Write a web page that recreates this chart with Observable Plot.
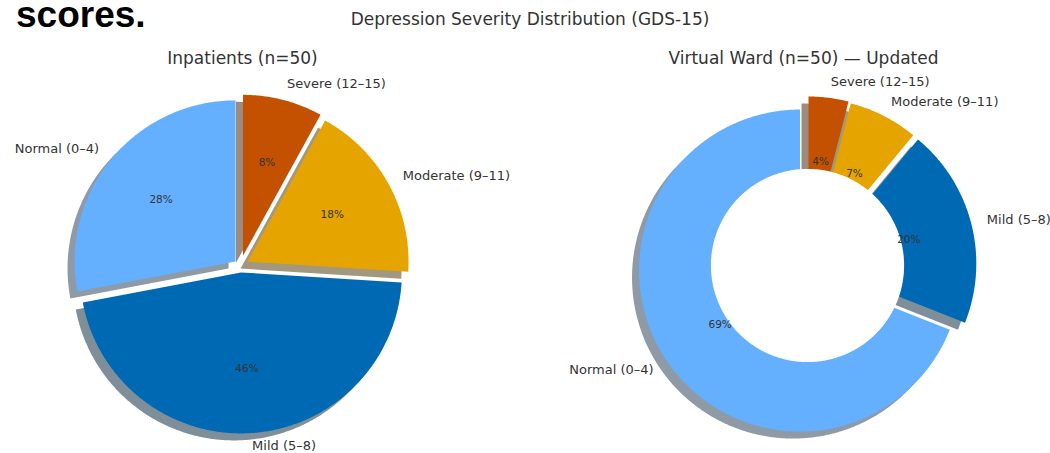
<!DOCTYPE html>
<html>
<head>
<meta charset="utf-8">
<script src="https://cdn.jsdelivr.net/npm/d3@7"></script>
<script src="https://cdn.jsdelivr.net/npm/@observablehq/plot@0.6"></script>
<style>
  body { margin: 0; background: #fff; }
  #fig { position: relative; width: 1050px; height: 453px; overflow: hidden; font-family: "DejaVu Sans", sans-serif; }
  #fig svg { position: absolute; top: 0; overflow: visible; }
  .kicker { position: absolute; left: 16px; top: 0; font: bold 37px/0.82 "Liberation Sans", Arial, sans-serif; color: #000; white-space: nowrap; }
  .suptitle { position: absolute; left: 0; width: 1060px; top: 11px; text-align: center; font-size: 17px; line-height: 1; color: #333; white-space: nowrap; }
</style>
</head>
<body>
<div id="fig">
  <div class="kicker">scores.</div>
  <div class="suptitle">Depression Severity Distribution (GDS-15)</div>
</div>
<script>
// GDS-15 severity bands, in clockwise order from 12 o'clock
const categories = ["Severe (12–15)", "Moderate (9–11)", "Mild (5–8)", "Normal (0–4)"];
// Share of patients in each band (%)
const inpatientPct = [8, 18, 46, 28];
const virtualWardPct = [4, 7, 20, 69];
const panelTitles = ["Inpatients (n=50)", "Virtual Ward (n=50) — Updated"];

// Styling
const palette = ["#c45100", "#e6a400", "#0069b3", "#64b0ff"];
const explodeInpatient = [0.062, 0.05, 0.043, 0.04];
const explodeVirtual = [0.05, 0.043, 0.05, 0.056];
const R = 161;                 // pixels per unit radius
const SHADOW = 7 / R;          // drop-shadow offset (left and down)
const PANEL_W = 480, PANEL_H = 453, CY = 265;
const LABEL_FLOOR = -(PANEL_H - CY - 8) / R;  // keep labels inside the panel

// Slice geometry: angles measured clockwise from the top
function slices(values, explode) {
  const total = d3.sum(values);
  let acc = 0;
  return values.map((v, i) => {
    const a0 = acc / total * 2 * Math.PI;
    acc += v;
    const a1 = acc / total * 2 * Math.PI;
    const mid = (a0 + a1) / 2;
    return {
      i, category: categories[i], value: v, a0, a1, mid,
      ox: explode[i] * Math.sin(mid),
      oy: explode[i] * Math.cos(mid)
    };
  });
}

function arcPoints(a0, a1, r) {
  const n = Math.max(2, Math.ceil((a1 - a0) / (Math.PI / 360)));
  return d3.range(n + 1).map(k => {
    const a = a0 + (a1 - a0) * k / n;
    return [r * Math.sin(a), r * Math.cos(a)];
  });
}

// Closed outline of one wedge
function outline(s) {
  const pts = arcPoints(s.a0, s.a1, 1);
  pts.push([0, 0]);
  return pts.map(([x, y]) => ({ category: s.category, x: x + s.ox, y: y + s.oy }));
}

function shade(c) {
  const k = d3.rgb(c);
  return d3.rgb(k.r * 0.3, k.g * 0.3, k.b * 0.3).formatHex();
}

// holeRadius > 0 turns the pie into a donut by covering its centre
function piePanel(values, explode, holeRadius, title, titleDx) {
  const sl = slices(values, explode);
  const outlines = sl.map(outline);
  const points = outlines.flat();
  const hole = holeRadius > 0
    ? arcPoints(0, 2 * Math.PI, holeRadius).map(([x, y]) => ({ x, y }))
    : [];

  const labelPos = sl.map(s => ({
    text: s.category,
    x: s.ox + 1.1 * Math.sin(s.mid),
    y: Math.max(LABEL_FLOOR, s.oy + 1.1 * Math.cos(s.mid))
  }));
  const pctPos = sl.map(s => ({
    text: `${Math.round(s.value)}%`,
    x: s.ox + 0.6 * Math.sin(s.mid),
    y: s.oy + 0.6 * Math.cos(s.mid)
  }));

  return Plot.plot({
    width: PANEL_W,
    height: PANEL_H,
    margin: 0,
    x: { domain: [-PANEL_W / 2 / R, PANEL_W / 2 / R], axis: null },
    y: { domain: [-(PANEL_H - CY) / R, CY / R], axis: null },
    color: { domain: categories, range: palette },
    style: { fontFamily: "DejaVu Sans, sans-serif", background: "transparent", overflow: "visible" },
    marks: [
      // drop shadows beneath every wedge
      ...outlines.map((pts, i) => Plot.line(pts, {
        x: d => d.x - SHADOW, y: d => d.y - SHADOW,
        curve: "linear-closed", fill: shade(palette[i]), fillOpacity: 0.5, stroke: "none"
      })),
      // wedges
      Plot.line(points, {
        x: "x", y: "y", z: "category", fill: "category",
        curve: "linear-closed", stroke: "none"
      }),
      // white centre circle for the donut
      Plot.line(hole, { x: "x", y: "y", curve: "linear-closed", fill: "white", stroke: "none" }),
      // category labels outside the wedges
      Plot.text(labelPos.filter(d => d.x > 0), {
        x: "x", y: "y", text: "text", textAnchor: "start", fontSize: 13, fill: "#333"
      }),
      Plot.text(labelPos.filter(d => d.x <= 0), {
        x: "x", y: "y", text: "text", textAnchor: "end", fontSize: 13, fill: "#333"
      }),
      // percentages
      Plot.text(pctPos, {
        x: "x", y: "y", text: "text", fontSize: 10.5, fill: "#333"
      }),
      // panel title
      Plot.text([title], {
        frameAnchor: "top", dy: 51, dx: titleDx, text: d => d, fontSize: 17, fill: "#333"
      })
    ]
  });
}

const fig = document.getElementById("fig");
const left = piePanel(inpatientPct, explodeInpatient, 0, panelTitles[0], 2);
left.style.left = "0px";
const right = piePanel(virtualWardPct, explodeVirtual, 0.6, panelTitles[1], -4);
right.style.left = "567px";
fig.append(left, right);
</script>
</body>
</html>
